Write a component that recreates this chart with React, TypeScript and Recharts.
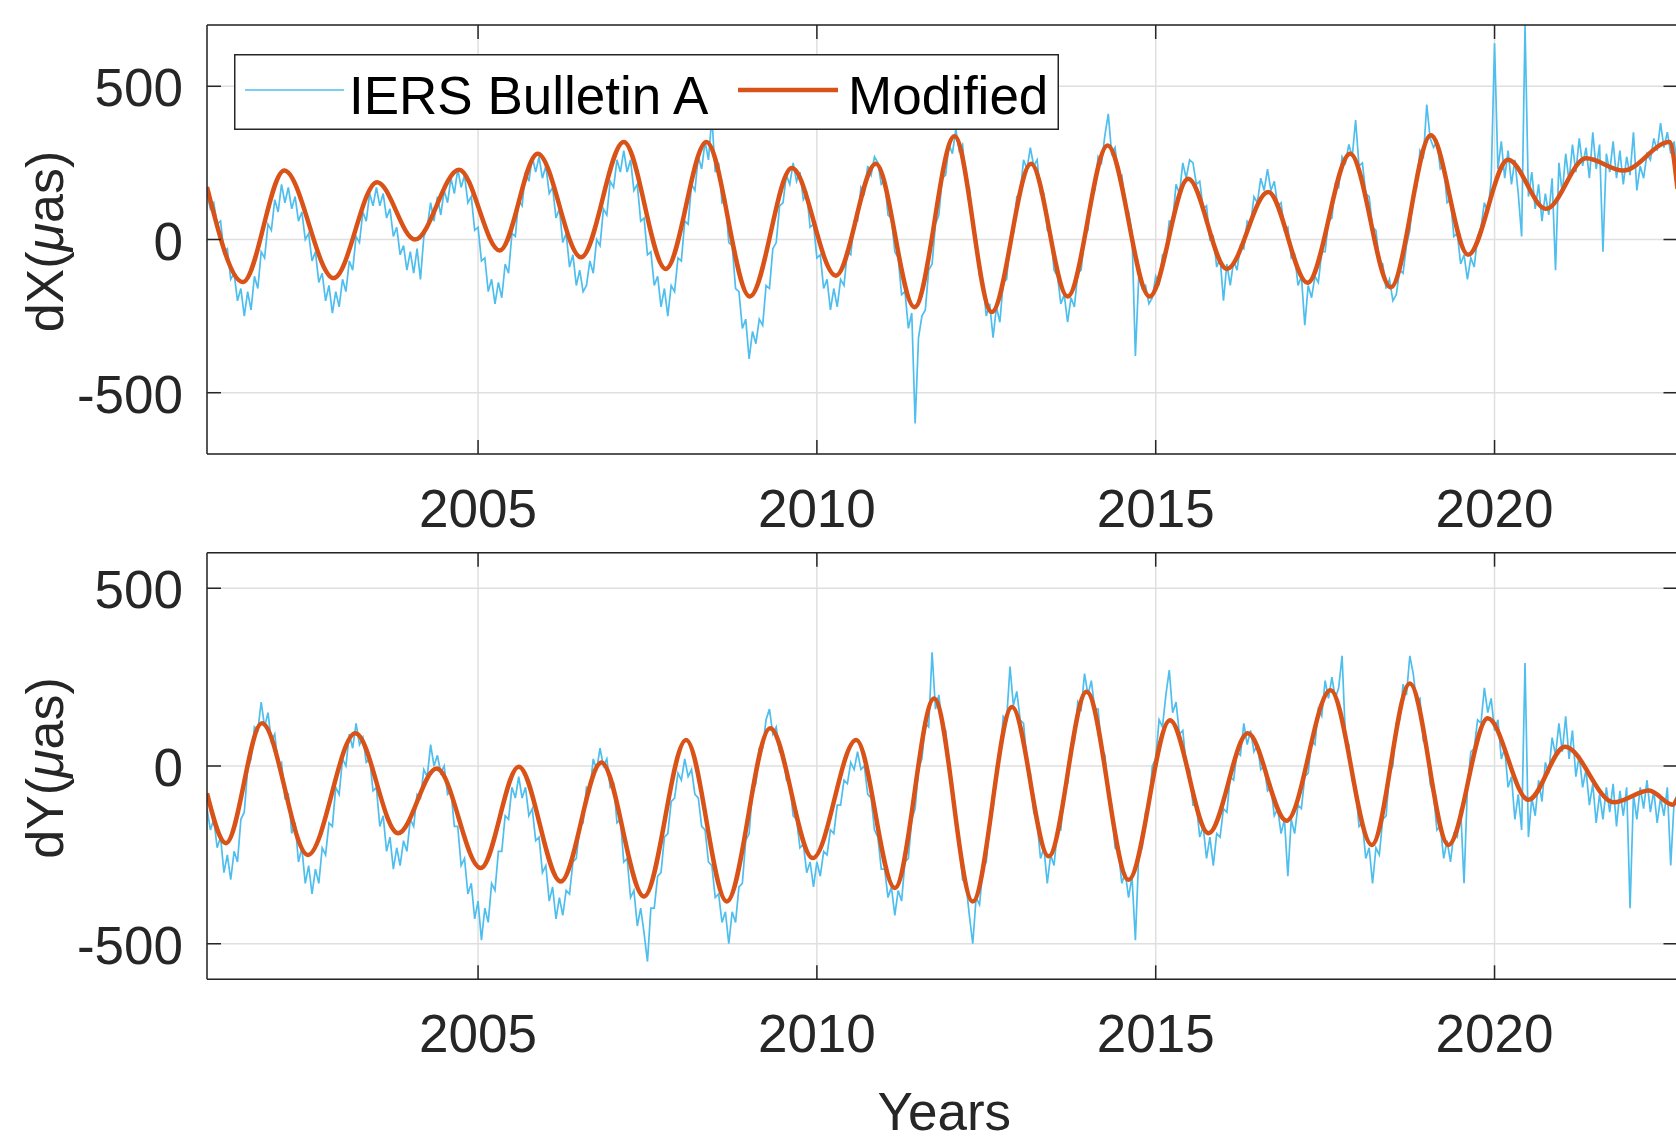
import React from 'react';
import { LineChart, Line, XAxis, YAxis, CartesianGrid, Legend } from 'recharts';

const FONT = '"Liberation Sans", Arial, Helvetica, sans-serif';
const INK = '#262626';
const GRID = '#dfdfdf';
const BLUE = '#4DBEEE';
const ORANGE = '#D95319';
const TICK_LEN = 14;

const X_DOMAIN: [number, number] = [2001, 2022.7];
const YEAR_TICKS = [2005, 2010, 2015, 2020];
const VALUE_TICKS = [-500, 0, 500];
const DX_DOMAIN: [number, number] = [-700, 700];
const DY_DOMAIN: [number, number] = [-600, 600];

// IERS Bulletin A: first value at 2001.00, one every 0.05 yr
const BULLETIN_START = 2001;
const BULLETIN_STEP = 0.05;

const dxBulletin = [
  150, 100, 120, 50, 60, -40, -30, -130, -110, -200, -160, -250, -170, -230, -120, -160, -40, -60, 50, 30,
  130, 90, 180, 120, 170, 100, 140, 60, 90, 0, 20, -70, -40, -140, -110, -200, -150, -240, -170, -220,
  -130, -170, -70, -100, 10, -10, 90, 60, 150, 110, 170, 110, 150, 70, 100, 10, 40, -50, -20, -100,
  -40, -110, -30, -130, 10, 40, 120, 60, 140, 80, 160, 120, 200, 150, 230, 170, 210, 120, 140, 30,
  40, -70, -60, -170, -130, -210, -140, -190, -80, -110, 20, 10, 130, 110, 220, 190, 270, 220, 270, 200,
  240, 150, 170, 70, 100, -10, 20, -90, -50, -150, -100, -170, -150, -70, -110, 0, -20, 100, 80, 190,
  170, 260, 220, 290, 220, 260, 160, 180, 60, 70, -50, -40, -150, -120, -220, -160, -250, -150, -170, -60,
  -70, 60, 50, 180, 160, 270, 230, 320, 260, 400, 220, 250, 120, 130, -10, -20, -160, -170, -290, -260,
  -390, -300, -340, -260, -280, -150, -160, -30, -10, 110, 120, 210, 180, 250, 190, 220, 130, 150, 40, 50,
  -60, -50, -160, -130, -230, -160, -220, -130, -150, -40, -50, 60, 60, 170, 150, 240, 210, 270, 250, 180,
  190, 80, 70, -40, -60, -180, -170, -290, -240, -600, -320, -250, -230, -100, -80, 50, 80, 200, 210, 310,
  280, 360, 290, 310, 190, 170, 40, 10, -120, -140, -250, -210, -320, -220, -270, -140, -130, -10, 20, 140,
  150, 260, 230, 300, 240, 260, 150, 150, 30, 20, -100, -120, -210, -180, -270, -190, -220, -110, -100, 10,
  30, 150, 160, 270, 250, 340, 410, 280, 300, 210, 210, 110, 90, 20, -380, -120, -160, -150, -210, -190,
  -120, -150, -50, -40, 60, 60, 180, 150, 250, 200, 260, 250, 180, 190, 100, 110, 0, 10, -90, -60,
  -200, -80, -150, -70, -100, -20, -30, 60, 50, 140, 120, 200, 160, 230, 160, 190, 110, 120, 30, 40,
  -60, -50, -150, -120, -280, -150, -190, -120, -140, -40, -40, 60, 70, 180, 170, 270, 250, 310, 270, 390,
  240, 250, 150, 140, 40, 30, -70, -80, -160, -130, -200, -180, -100, -110, -20, 30, 150, 170, 290, 270,
  440, 330, 300, 320, 230, 240, 120, 130, 10, 20, -80, -50, -130, -60, -90, 10, 40, 120, 90, 190,
  640, 230, 320, 200, 290, 180, 260, 150, 10, 700, 140, 220, 100, 180, 60, 150, 80, 200, -100, 250,
  150, 280, 190, 310, 220, 330, 240, 300, 200, 350, 230, 310, -40, 280, 220, 320, 200, 290, 180, 270,
  210, 350, 160, 240, 200, 280, 260, 330, 290, 380, 300, 350, 280, 320, 230,
];

const dyBulletin = [
  -120, -180, -150, -230, -200, -300, -250, -320, -240, -270, -150, -130, -10, 20, 110, 100, 180, 110, 150, 70,
  90, 0, 10, -90, -80, -190, -160, -270, -230, -330, -280, -360, -290, -330, -230, -250, -160, -170, -60, -80,
  20, 0, 90, 50, 120, 60, 80, 10, 20, -70, -60, -170, -140, -240, -200, -290, -230, -280, -210, -240,
  -150, -170, -80, -90, -10, -30, 60, 0, 30, -20, 0, -80, -70, -170, -170, -280, -260, -360, -330, -430,
  -380, -490, -400, -440, -330, -350, -240, -240, -140, -150, -60, -90, -30, -90, -60, -140, -120, -210, -200, -300,
  -280, -380, -340, -430, -370, -420, -350, -360, -270, -260, -170, -160, -60, -70, 20, -10, 50, 0, 20, -60,
  -50, -160, -150, -270, -260, -370, -350, -450, -400, -470, -550, -400, -400, -310, -300, -200, -190, -100, -90, -20,
  -40, 20, -30, -10, -80, -90, -170, -180, -270, -280, -370, -360, -440, -410, -500, -410, -440, -340, -330, -210,
  -190, -70, -50, 50, 50, 130, 160, 90, 110, 40, 40, -40, -50, -140, -150, -230, -220, -300, -270, -340,
  -270, -310, -240, -250, -180, -190, -110, -110, -40, -50, 10, -10, 40, -10, 0, -80, -90, -180, -200, -290,
  -290, -370, -340, -420, -350, -380, -270, -260, -150, -120, -10, 20, 120, 110, 320, 160, 200, 110, 100, -10,
  -50, -170, -210, -320, -330, -420, -500, -370, -390, -290, -270, -150, -120, 0, 20, 140, 130, 280, 170, 210,
  130, 120, 10, -20, -130, -160, -260, -230, -330, -250, -280, -180, -180, -70, -50, 60, 70, 180, 160, 260,
  200, 240, 160, 160, 50, 30, -80, -110, -230, -240, -330, -300, -370, -310, -490, -250, -230, -130, -110, 0,
  20, 130, 110, 200, 270, 150, 180, 90, 100, 0, -10, -110, -110, -200, -170, -260, -200, -280, -190, -200,
  -120, -130, -30, -40, 40, 30, 120, 60, 100, 40, 60, -10, 0, -70, -60, -140, -120, -190, -150, -310,
  -150, -190, -110, -120, -30, -20, 70, 60, 160, 140, 240, 190, 250, 190, 220, 310, 80, 60, -40, -60,
  -170, -160, -260, -230, -330, -230, -250, -150, -140, -20, 0, 120, 130, 230, 200, 310, 260, 180, 190, 70,
  60, -50, -80, -180, -170, -260, -210, -270, -190, -200, -120, -330, -60, 40, 50, 130, 120, 220, 150, 190,
  100, 130, 20, 50, -60, -30, -150, -80, -180, 290, -200, -90, -140, -40, -100, 10, -20, 80, 30, 120,
  40, 140, 20, 100, -30, 30, -60, -10, -110, -50, -160, -80, -150, -60, -130, -50, -170, -70, -140, -60,
  -400, -80, -150, -60, -120, -40, -130, -70, -160, -90, -140, -60, -280, -100, -80,
];

// Modified series: turning points of the smooth curve
const dxModYears = [
  2001.0, 2001.53, 2002.14, 2002.87, 2003.51, 2004.07, 2004.72, 2005.32, 2005.88, 2006.52,
  2007.15, 2007.77, 2008.37, 2009.01, 2009.63, 2010.28, 2010.87, 2011.44, 2012.03, 2012.58,
  2013.16, 2013.7, 2014.29, 2014.91, 2015.48, 2016.05, 2016.66, 2017.24, 2017.87, 2018.47,
  2019.06, 2019.61, 2020.2, 2020.76, 2021.35, 2021.9, 2022.58, 2022.7,
];
const dxModValues = [
  171, -139, 225, -126, 187, 0, 228, -36, 280, -58,
  318, -96, 318, -186, 233, -118, 247, -221, 337, -237,
  247, -186, 307, -186, 198, -96, 155, -141, 280, -156,
  340, -50, 260, 100, 265, 225, 318, 165,
];

const dyModYears = [
  2001.0, 2001.28, 2001.81, 2002.49, 2003.19, 2003.82, 2004.39, 2005.04, 2005.6, 2006.22,
  2006.82, 2007.45, 2008.07, 2008.67, 2009.31, 2009.94, 2010.58, 2011.15, 2011.73, 2012.3,
  2012.88, 2013.42, 2013.98, 2014.6, 2015.21, 2015.78, 2016.36, 2016.93, 2017.58, 2018.19,
  2018.75, 2019.32, 2019.9, 2020.5, 2021.04, 2021.76, 2022.28, 2022.63, 2022.7,
];
const dyModValues = [
  -77, -217, 120, -250, 92, -189, -7, -287, -2, -325,
  10, -367, 73, -381, 106, -259, 73, -343, 190, -381,
  166, -254, 209, -320, 129, -189, 92, -154, 213, -222,
  232, -222, 134, -95, 54, -102, -69, -109, -91,
];

type Row = { t: number; v: number };

const sampledRows = (vals: number[]): Row[] =>
  vals.map((v, i) => ({ t: +(BULLETIN_START + i * BULLETIN_STEP).toFixed(2), v }));
const pairedRows = (ts: number[], vs: number[]): Row[] => ts.map((t, i) => ({ t, v: vs[i] }));

const SERIES = [
  { name: 'IERS Bulletin A', color: BLUE, width: 1.7 },
  { name: 'Modified', color: ORANGE, width: 4.5 },
];

// layout (page pixels)
const CHART_W = 1680;
const PLOT_LEFT = 207;
const PLOT_RIGHT = 1677.5;
const AXIS_BAND = 1; // recharts skips drawing an axis of zero size
const AXIS_LINE = { stroke: INK, strokeWidth: 1.5 };
const LEGEND_BOX = { x: 234, y: 53.5, w: 825, h: 76 };
const LEGEND_ITEMS = [
  { sampleX: 11, sampleW: 99, textX: 115 },
  { sampleX: 504, sampleW: 100, textX: 614 },
];

const BottomTick = (p: any) => (
  <g>
    <line x1={p.x} y1={p.y} x2={p.x} y2={p.y - TICK_LEN} stroke={INK} strokeWidth={1.5} />
    <text x={p.x} y={p.y + 73} textAnchor="middle" fill={INK} fontSize={53} fontFamily={FONT}>
      {p.payload.value}
    </text>
  </g>
);

const TopTick = (p: any) => (
  <line x1={p.x} y1={p.y} x2={p.x} y2={p.y + TICK_LEN} stroke={INK} strokeWidth={1.5} />
);

const LeftTick = (p: any) => (
  <g>
    <line x1={p.x} y1={p.y} x2={p.x + TICK_LEN} y2={p.y} stroke={INK} strokeWidth={1.5} />
    <text x={p.x - 24} y={p.y + 20} textAnchor="end" fill={INK} fontSize={53} fontFamily={FONT}>
      {p.payload.value}
    </text>
  </g>
);

const RightTick = (p: any) => (
  <line x1={p.x} y1={p.y} x2={p.x - TICK_LEN} y2={p.y} stroke={INK} strokeWidth={1.5} />
);

const renderLegend = (props: any) => {
  const payload = props.payload ?? [];
  return (
    <svg width={LEGEND_BOX.w} height={LEGEND_BOX.h} style={{ display: 'block' }}>
      <rect x={0.75} y={0.75} width={LEGEND_BOX.w - 1.5} height={LEGEND_BOX.h - 1.5} fill="#fff" stroke={INK} strokeWidth={1.5} />
      {payload.map((entry: any, i: number) => {
        const pos = LEGEND_ITEMS[i];
        const s = SERIES[i];
        if (!pos || !s) return null;
        return (
          <g key={i}>
            <line x1={pos.sampleX} x2={pos.sampleX + pos.sampleW} y1={36} y2={36} stroke={entry.color ?? s.color} strokeWidth={s.width} />
            <text x={pos.textX} y={60} fill="#000" fontSize={53} fontFamily={FONT}>
              {entry.value ?? s.name}
            </text>
          </g>
        );
      })}
    </svg>
  );
};

interface PanelProps {
  top: number;
  height: number;
  plotTop: number;
  plotBottom: number;
  domain: [number, number];
  bulletin: Row[];
  modified: Row[];
  yName: string;
  showLegend?: boolean;
  showYears?: boolean;
}

function Panel({ top, height, plotTop, plotBottom, domain, bulletin, modified, yName, showLegend, showYears }: PanelProps) {
  const midY = (plotTop + plotBottom) / 2 + 2;
  const yTitle = () => (
    <text transform={`translate(63, ${midY}) rotate(-90)`} textAnchor="middle" fill={INK} fontSize={52} fontFamily={FONT}>
      {yName}(<tspan fontStyle="italic">μ</tspan>as)
    </text>
  );
  const yearsTitle = () => (
    <text x={(PLOT_LEFT + PLOT_RIGHT) / 2 + 2} y={plotBottom + 150.7} textAnchor="middle" fill={INK} fontSize={53} fontFamily={FONT}>
      Years
    </text>
  );

  return (
    <div style={{ position: 'absolute', left: 0, top }}>
      <LineChart
        width={CHART_W}
        height={height}
        margin={{
          top: plotTop - AXIS_BAND,
          right: CHART_W - PLOT_RIGHT - AXIS_BAND,
          bottom: height - plotBottom - AXIS_BAND,
          left: 0,
        }}
      >
        <CartesianGrid stroke={GRID} strokeWidth={1.5} />
        <XAxis
          dataKey="t"
          type="number"
          domain={X_DOMAIN}
          ticks={YEAR_TICKS}
          interval={0}
          allowDataOverflow
          height={AXIS_BAND}
          tickSize={0}
          tickMargin={0}
          tickLine={false}
          axisLine={AXIS_LINE}
          tick={BottomTick}
          label={showYears ? yearsTitle : undefined}
        />
        <XAxis
          xAxisId="top"
          orientation="top"
          dataKey="t"
          type="number"
          domain={X_DOMAIN}
          ticks={YEAR_TICKS}
          interval={0}
          allowDataOverflow
          height={AXIS_BAND}
          tickSize={0}
          tickMargin={0}
          tickLine={false}
          axisLine={AXIS_LINE}
          tick={TopTick}
        />
        <YAxis
          type="number"
          domain={domain}
          ticks={VALUE_TICKS}
          interval={0}
          allowDataOverflow
          width={PLOT_LEFT}
          tickSize={0}
          tickMargin={0}
          tickLine={false}
          axisLine={AXIS_LINE}
          tick={LeftTick}
          label={yTitle}
        />
        <YAxis
          yAxisId="right"
          orientation="right"
          type="number"
          domain={domain}
          ticks={VALUE_TICKS}
          interval={0}
          allowDataOverflow
          width={AXIS_BAND}
          tickSize={0}
          tickMargin={0}
          tickLine={false}
          axisLine={AXIS_LINE}
          tick={RightTick}
        />
        <Line
          data={bulletin}
          dataKey="v"
          name={SERIES[0].name}
          type="linear"
          stroke={SERIES[0].color}
          strokeWidth={SERIES[0].width}
          dot={false}
          activeDot={false}
          isAnimationActive={false}
        />
        <Line
          data={modified}
          dataKey="v"
          name={SERIES[1].name}
          type="monotone"
          stroke={SERIES[1].color}
          strokeWidth={SERIES[1].width}
          dot={false}
          activeDot={false}
          isAnimationActive={false}
        />
        {showLegend && (
          <Legend
            layout="vertical"
            verticalAlign="middle"
            align="center"
            width={LEGEND_BOX.w}
            height={LEGEND_BOX.h}
            wrapperStyle={{ left: LEGEND_BOX.x, top: LEGEND_BOX.y, width: LEGEND_BOX.w, height: LEGEND_BOX.h }}
            content={renderLegend}
          />
        )}
      </LineChart>
    </div>
  );
}

export default function App() {
  return (
    <div
      style={{
        position: 'absolute',
        left: 0,
        top: 0,
        width: 1676,
        height: 1142,
        overflow: 'hidden',
        background: '#fff',
        fontFamily: FONT,
      }}
    >
      <Panel
        top={0}
        height={540}
        plotTop={25}
        plotBottom={454}
        domain={DX_DOMAIN}
        bulletin={sampledRows(dxBulletin)}
        modified={pairedRows(dxModYears, dxModValues)}
        yName="dX"
        showLegend
      />
      <Panel
        top={540}
        height={602}
        plotTop={12.7}
        plotBottom={439.3}
        domain={DY_DOMAIN}
        bulletin={sampledRows(dyBulletin)}
        modified={pairedRows(dyModYears, dyModValues)}
        yName="dY"
        showYears
      />
    </div>
  );
}
